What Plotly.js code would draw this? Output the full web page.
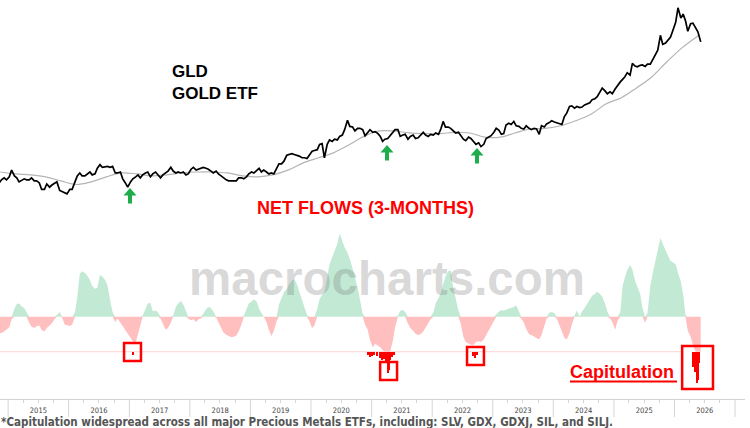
<!DOCTYPE html>
<html><head><meta charset="utf-8">
<script src="https://cdn.plot.ly/plotly-3.0.1.min.js"></script>
<style>html,body{margin:0;padding:0;background:#fff;}#chart{width:750px;height:428px;}</style>
</head><body><div id="chart"></div>
<script>
// ---- GLD price, semi-monthly (8th and 22nd of each month), from Nov 2014 ----
const price2014 = [111,114,116,114];
const price2015 = [117,124,118,116,112,113,115,114,114,116,113,113,111,105,105,110,107,109,111,112,104,103,102,101];
const price2016 = [105,105,112,118,121,118,118,120,122,119,120,126,130,127,128,128,127,128,121,121,122,115,111,107];
const price2017 = [112,115,117,119,116,119,121,122,117,120,122,119,116,119,121,123,127,123,121,122,121,122,119,120];
const price2018 = [125,127,124,125,126,127,126,125,123,121,123,120,118,116,114,113,113,113,113,116,116,115,117,120];
const price2019 = [122,121,124,126,122,124,122,120,121,120,126,131,131,134,141,142,143,142,141,140,138,138,137,141];
const price2020 = [146,147,148,155,156,138,155,161,159,162,161,166,168,176,191,181,180,174,178,178,176,167,171,176];
const price2021 = [172,173,170,166,159,162,163,167,171,176,176,166,168,169,162,166,168,163,164,167,172,168,166,169];
const price2022 = [168,171,169,177,189,180,180,178,174,171,172,168,162,160,165,163,159,155,157,152,155,163,165,167];
const price2023 = [172,178,175,169,170,183,186,184,189,182,181,178,177,182,178,176,178,177,169,182,180,185,187,190];
const price2024 = [188,187,185,184,197,203,215,216,212,215,213,214,218,220,222,228,230,234,242,252,246,240,244,240];
const price2025 = [250,258,266,272,278,288,282,312,305,303,307,308,304,310,310,322,335,350,398,368,372,382,392,415];
const price2026 = [445,505,462,478,452,412,440,442,424,410,376];

// ---- Moving average (quarterly readings from Nov 2014, plus final point) ----
const maValues = [122,120,119,117,113,109.5,112,117,121,120,118,119,121,122,122,121,118,117,119,124,132,
  138,144,154,166,174,174,171,170,170,172,171,165,165,171,177,178,182,190,201,220,232,252,277,316,357];
const maLastDate = '2026-06-01';
const maLastValue = 400;

// ---- Net flows (3-months), same semi-monthly grid ----
const flow2014 = [-1.9,-1.85,-1.7,-1.5];
const flow2015 = [-1.2,-0.3,0.9,1.45,1.5,1.2,1.0,0.5,-0.7,-1.14,-1.3,-1.1,-1.0,-1.52,-1.7,-1.3,-1.0,-0.75,-0.3,0.2,0.55,-0.1,-0.9,-1.0];
const flow2016 = [-1.06,-0.9,0.5,2.2,4.9,5.2,5.0,4.7,4.2,3.5,3.2,3.3,4.77,4.6,4.2,3.6,1.8,0.5,-0.6,-0.2,-0.7,-1.1,-1.6,-2.0];
const flow2017 = [-2.4,-2.8,-2.97,-2.1,-1.0,0.1,1.0,1.5,1.6,0.6,0.7,0.5,-0.2,-0.8,-1.5,-1.3,-0.7,0.1,1.1,1.5,1.8,1.4,0.6,-0.2];
const flow2018 = [-0.4,-0.3,-0.6,-0.3,-0.2,0.3,0.85,1.1,1.0,0.6,-0.1,-0.7,-1.4,-1.8,-2.05,-2.2,-2.35,-2.3,-2.15,-1.7,-0.9,0.1,0.9,1.5];
const flow2019 = [1.75,2.0,1.7,0.9,0.45,0,-0.6,-1.5,-2.2,-1.6,-0.5,1.4,2.2,2.8,3.2,3.7,4.1,4.3,3.7,2.9,1.8,0.9,0.2,-0.5];
const flow2020 = [-1.3,-1.0,0.9,2.0,2.5,2.8,4.5,6.0,6.8,7.6,8.3,9.5,8.7,7.9,7.3,6.6,5.5,4.6,3.3,2.0,0.3,-0.9,-1.5,-2.7];
const flow2021 = [-3.5,-3.1,-3.3,-3.5,-3.8,-4.3,-4.5,-4.2,-2.8,-1.2,0.1,0.65,0.76,0.55,-0.8,-1.3,-1.6,-1.95,-2.1,-2.0,-1.7,-1.2,-0.8,-0.3];
const flow2022 = [0.5,1.5,2.1,2.7,3.7,4.6,5.2,5.3,3.3,2.0,0.7,-0.8,-2.3,-2.9,-3.1,-3.2,-3.2,-2.9,-2.8,-2.9,-2.6,-2.1,-1.6,-1.2];
const flow2023 = [-0.5,0.25,0.6,0.75,0.7,0.8,0.9,1.0,1.1,1.3,0.5,-0.2,-0.7,-1.4,-2.0,-2.1,-2.3,-2.4,-2.6,-2.1,-1.0,-0.2,0.45,0.55];
const flow2024 = [0.4,-0.2,-1.1,-1.8,-2.4,-2.6,-1.9,-0.9,0.1,0.7,-0.05,0.6,1.0,1.4,1.9,2.4,2.6,2.85,2.6,2.3,1.5,0.6,-0.2,-0.6];
const flow2025 = [-1.5,-0.5,0.5,3.5,4.5,5.3,5.9,5.4,4.1,3.4,2.6,1.0,-0.7,0.4,3.5,4.9,6.4,7.8,9.0,8.3,7.5,7.0,6.4,6.2];
const flow2026 = [6.0,5.0,4.0,2.6,0.2,-1.6,-2.3,-3.2,-4.2,-4.5,-4.5];

const threshold = -4;

// ---- Capitulation readings (below threshold) ----
const capDates = ['2017-01-23',
  '2020-12-10','2020-12-22','2021-01-04','2021-01-16','2021-02-03','2021-02-21','2021-03-05','2021-03-17',
  '2021-03-29','2021-04-10','2021-04-16','2021-04-22','2021-05-04','2021-05-16',
  '2022-09-04','2022-09-16','2022-09-28',
  '2026-04-22','2026-04-28','2026-05-04','2026-05-16','2026-05-22','2026-05-28'];
const capValues = [-4.34,
  -4.34,-4.57,-4.46,-4.34,-4.46,-4.69,-4.91,-4.8,-5.14,-6.4,-6.06,-4.91,-4.57,-4.34,
  -4.46,-4.69,-4.34,
  -5.71,-5.14,-6.29,-7.54,-7.2,-5.26];

// ---- build ----
const pad = n => (n < 10 ? '0' : '') + n;
const priceValues = [].concat(price2014,price2015,price2016,price2017,price2018,price2019,price2020,price2021,price2022,price2023,price2024,price2025,price2026);
const flowValues = [].concat(flow2014,flow2015,flow2016,flow2017,flow2018,flow2019,flow2020,flow2021,flow2022,flow2023,flow2024,flow2025,flow2026);
const gridDates = [];
{ let y = 2014, m = 11;
  while (gridDates.length < priceValues.length) {
    gridDates.push(y + '-' + pad(m) + '-08');
    if (gridDates.length < priceValues.length) gridDates.push(y + '-' + pad(m) + '-22');
    m++; if (m > 12) { m = 1; y++; }
  } }
const maDates = [];
{ let y = 2014, m = 11;
  for (let i = 0; i < maValues.length; i++) {
    maDates.push(y + '-' + pad(m) + '-15');
    m += 3; if (m > 12) { m -= 12; y++; }
  } }
maDates.push(maLastDate);
const maAll = maValues.concat([maLastValue]);

const posFlow = flowValues.map(v => Math.max(v, 0));
const negFlow = flowValues.map(v => Math.max(Math.min(v, 0), threshold));

const traces = [
  {x: gridDates, y: posFlow, type: 'scatter', mode: 'lines', fill: 'tozeroy', fillcolor: '#c2e9d3',
   line: {width: 0, color: '#c2e9d3'}, xaxis: 'x', yaxis: 'y2', hoverinfo: 'skip'},
  {x: gridDates, y: negFlow, type: 'scatter', mode: 'lines', fill: 'tozeroy', fillcolor: '#ffbfbf',
   line: {width: 0, color: '#ffbfbf'}, xaxis: 'x', yaxis: 'y2', hoverinfo: 'skip'},
  {x: capDates, y: capValues.map(v => v - threshold), base: threshold, type: 'bar',
   width: capDates.map(() => 12 * 864e5), marker: {color: '#ff0000', line: {width: 0}},
   xaxis: 'x', yaxis: 'y2', hoverinfo: 'skip'},
  {x: maDates, y: maAll, type: 'scatter', mode: 'lines', line: {color: '#b4b4b4', width: 1.2, shape: 'spline'},
   xaxis: 'x', yaxis: 'y', hoverinfo: 'skip'},
  {x: gridDates, y: priceValues, type: 'scatter', mode: 'lines', line: {color: '#000', width: 1.7},
   xaxis: 'x', yaxis: 'y', hoverinfo: 'skip'}
];

const W = 745, H = 428;
const px = x => x / W, py = y => 1 - y / H;

const shapes = [];
for (let y = 2015; y <= 2027; y++) {
  shapes.push({type: 'line', xref: 'x', yref: 'paper', x0: y + '-01-01', x1: y + '-01-01',
    y0: py(399), y1: py(417), line: {color: '#d6d6d6', width: 1}});
}
shapes.push({type: 'line', xref: 'x', yref: 'y2', x0: '2014-11-13', x1: '2026-02-18', y0: threshold, y1: threshold,
  line: {color: '#ffd4d4', width: 1}, layer: 'below'});
const boxes = [
  ['2016-11-30','2017-03-12',-3.0,-5.06],
  ['2021-02-21','2021-06-03',-5.18,-7.23],
  ['2022-07-30','2022-11-09',-3.46,-5.52],
  ['2026-02-16','2026-08-21',-3.35,-8.26]
];
boxes.forEach(b => shapes.push({type: 'rect', xref: 'x', yref: 'y2', x0: b[0], x1: b[1], y0: b[2], y1: b[3],
  line: {color: '#ff0000', width: 2.5}, fillcolor: 'rgba(0,0,0,0)'}));
shapes.push({type: 'line', xref: 'paper', yref: 'paper', x0: px(570), x1: px(677), y0: py(381.5), y1: py(381.5),
  line: {color: '#ff0000', width: 2}});
function arrowPath(cx, t) {
  const pts = [[cx, t], [cx + 6.5, t + 7.5], [cx + 2, t + 7.5], [cx + 2, t + 15.5], [cx - 2, t + 15.5], [cx - 2, t + 7.5], [cx - 6.5, t + 7.5]];
  return 'M ' + pts.map(p => px(p[0]).toFixed(5) + ',' + py(p[1]).toFixed(5)).join(' L ') + ' Z';
}
[[130, 188], [387, 145], [477, 148]].forEach(a => shapes.push({type: 'path', xref: 'paper', yref: 'paper',
  path: arrowPath(a[0], a[1]), fillcolor: '#1fad4b', line: {width: 0}}));

const ann = (text, x, y, size, color, family, extra) => Object.assign({
  text: text, xref: 'paper', yref: 'paper', x: px(x), y: py(y), xanchor: 'left', yanchor: 'middle',
  showarrow: false, font: {size: size, color: color, family: family, weight: 'bold'}, borderpad: 0
}, extra || {});
const annotations = [
  ann('GLD', 171, 71, 17, '#000', 'Liberation Sans, Arial, sans-serif'),
  ann('GOLD ETF', 171, 93, 17, '#000', 'Liberation Sans, Arial, sans-serif'),
  ann('NET FLOWS (3-MONTHS)', 256, 208, 18, '#ff0000', 'Liberation Sans, Arial, sans-serif'),
  ann('macrocharts.com', 188, 278, 47.5, 'rgba(120,120,120,0.30)', 'Liberation Sans, Arial, sans-serif'),
  ann('Capitulation', 569, 372, 18, '#ff0000', 'Liberation Sans, Arial, sans-serif'),
  ann('*Capitulation widespread across all major Precious Metals ETFs, including: SLV, GDX, GDXJ, SIL, and SILJ.',
      0, 422, 11.5, '#555', 'DejaVu Sans Condensed, sans-serif')
];

const layout = {
  width: 750, height: 428,
  margin: {l: 0, r: 5, t: 0, b: 0, pad: 0},
  paper_bgcolor: '#fff', plot_bgcolor: '#fff',
  showlegend: false, bargap: 0,
  xaxis: {type: 'date', range: ['2014-11-13', '2027-03-02'], anchor: 'y2', showgrid: false, zeroline: false,
    showline: true, linecolor: '#d3d3d3', linewidth: 1, ticks: 'outside', ticklen: 4, tickcolor: 'rgba(0,0,0,0)',
    dtick: 'M12', tick0: '2015-01-01',
    tickformat: '%Y', ticklabelmode: 'period', tickfont: {size: 7.5, color: '#444', family: 'DejaVu Sans Condensed, sans-serif'},
    minor: {dtick: 'M3', ticks: 'outside', ticklen: 3, tickcolor: '#d6d6d6', showgrid: false},
    automargin: false, fixedrange: true},
  yaxis: {type: 'log', domain: [py(200), 1], range: [1.9812, 2.7325], visible: false, fixedrange: true},
  yaxis2: {domain: [py(399), py(220)], range: [-9.406, 11.05], visible: false, fixedrange: true},
  shapes: shapes,
  annotations: annotations
};

Plotly.newPlot('chart', traces, layout, {displayModeBar: false, staticPlot: true});
</script></body></html>
